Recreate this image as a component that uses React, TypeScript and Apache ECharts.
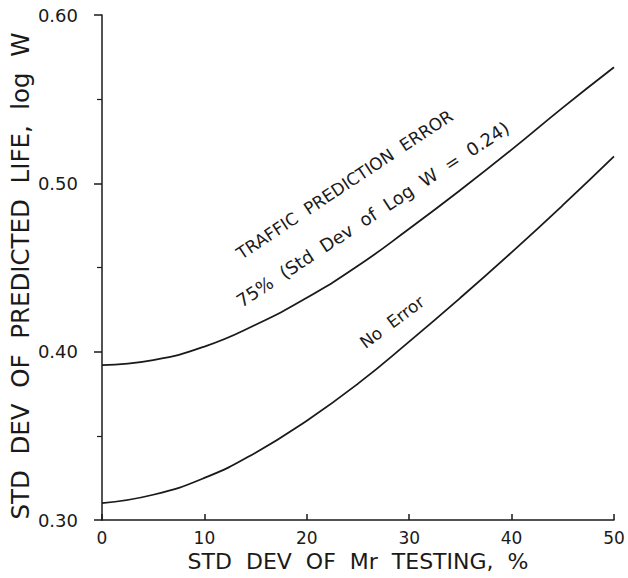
import React, { useEffect, useRef } from "react";
import * as echarts from "echarts";

const xValues = [0, 5, 10, 15, 20, 25, 30, 35, 40, 45, 50];
const trafficErrorValues = [0.392, 0.395, 0.403, 0.416, 0.432, 0.451, 0.473, 0.496, 0.52, 0.545, 0.569];
const noErrorValues = [0.31, 0.315, 0.325, 0.34, 0.359, 0.381, 0.406, 0.432, 0.459, 0.487, 0.516];
const xTicks = [0, 10, 20, 30, 40, 50];
const yTicks = [0.3, 0.4, 0.5, 0.6];
const yTitle = "STD  DEV  OF  PREDICTED  LIFE,  log  W";
const xTitle = "STD  DEV  OF  Mr  TESTING,  %";

const FONT = "DejaVu Sans";
const INK = "#1a1a1a";

export default function App() {
  const ref = useRef<HTMLDivElement>(null);
  useEffect(() => {
    if (!ref.current) return;
    const chart = echarts.init(ref.current, null, { renderer: "svg" });
    const toPairs = (ys: number[]) => xValues.map((x, i) => [x, ys[i]]);
    chart.setOption({
      animation: false,
      backgroundColor: "#ffffff",
      grid: {
        left: 102,
        right: 14,
        top: 15,
        bottom: 58,
        containLabel: false,
        outerBoundsMode: "none",
      },
      xAxis: {
        type: "value",
        min: xTicks[0],
        max: xTicks[xTicks.length - 1],
        interval: 10,
        name: xTitle,
        nameLocation: "middle",
        nameGap: 27,
        nameTextStyle: { fontFamily: FONT, fontSize: 22, color: INK },
        axisLine: { lineStyle: { color: INK, width: 1.5 } },
        axisTick: { show: true, inside: true, length: 6, lineStyle: { color: INK, width: 1.5 } },
        axisLabel: { fontFamily: FONT, fontSize: 17, color: INK, margin: 9 },
        splitLine: { show: false },
      },
      yAxis: {
        type: "value",
        min: yTicks[0],
        max: yTicks[yTicks.length - 1],
        interval: 0.1,
        axisLine: { lineStyle: { color: INK, width: 1.5 } },
        axisTick: { show: true, inside: false, length: 8, lineStyle: { color: INK, width: 1.5 } },
        minorTick: { show: true, splitNumber: 2, length: 5, lineStyle: { color: INK, width: 1.2 } },
        axisLabel: {
          fontFamily: FONT,
          fontSize: 18,
          color: INK,
          margin: 24,
          formatter: (v: number) => v.toFixed(2),
        },
        splitLine: { show: false },
      },
      series: [
        {
          name: "75% (Std Dev of Log W = 0.24)",
          type: "line",
          data: toPairs(trafficErrorValues),
          smooth: true,
          showSymbol: false,
          lineStyle: { color: INK, width: 1.8 },
        },
        {
          name: "No Error",
          type: "line",
          data: toPairs(noErrorValues),
          smooth: true,
          showSymbol: false,
          lineStyle: { color: INK, width: 1.8 },
        },
      ],
      graphic: [
        {
          type: "text",
          x: 20,
          y: 276,
          rotation: Math.PI / 2,
          style: {
            text: yTitle,
            fontFamily: FONT,
            fontSize: 24.5,
            fill: INK,
            textAlign: "center",
            textVerticalAlign: "middle",
          },
        },
        {
          type: "text",
          x: 243,
          y: 262,
          rotation: 0.585,
          style: {
            text: "TRAFFIC  PREDICTION  ERROR",
            fontFamily: FONT,
            fontSize: 17,
            fill: INK,
            textAlign: "left",
            textVerticalAlign: "bottom",
          },
        },
        {
          type: "text",
          x: 243,
          y: 310,
          rotation: 0.58,
          style: {
            text: "75%  (Std  Dev  of  Log  W  =  0.24)",
            fontFamily: FONT,
            fontSize: 18,
            fill: INK,
            textAlign: "left",
            textVerticalAlign: "bottom",
          },
        },
        {
          type: "text",
          x: 392,
          y: 322,
          rotation: 0.64,
          style: {
            text: "No  Error",
            fontFamily: FONT,
            fontSize: 17,
            fill: INK,
            textAlign: "center",
            textVerticalAlign: "middle",
          },
        },
      ],
    });
    return () => chart.dispose();
  }, []);
  return (
    <div
      ref={ref}
      style={{ position: "fixed", left: 0, top: 0, width: 628, height: 578 }}
    />
  );
}
